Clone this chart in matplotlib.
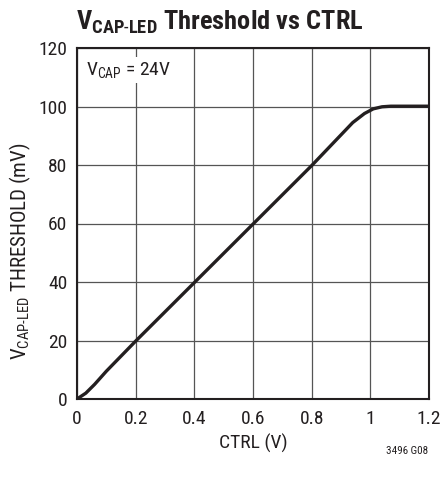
import matplotlib
matplotlib.use("Agg")
import matplotlib.pyplot as plt
from matplotlib import font_manager

# CTRL voltage (V) vs threshold (mV)
ctrl_v = [0.0, 0.03, 0.06, 0.10, 0.20, 0.40, 0.60, 0.80, 0.94, 0.98, 1.01, 1.04, 1.07, 1.10, 1.20]
thresh_mv = [0.0, 2.0, 5.0, 9.5, 19.8, 39.8, 59.8, 79.8, 94.5, 97.6, 99.2, 99.9, 100.1, 100.1, 100.1]

x_ticks = [0, 0.2, 0.4, 0.6, 0.8, 1.0, 1.2]
x_labels = ["0", "0.2", "0.4", "0.6", "0.8", "1", "1.2"]
y_ticks = [0, 20, 40, 60, 80, 100, 120]

# pick a narrow sans if one is there
names = {f.name for f in font_manager.fontManager.ttflist}
base = "Liberation Sans"
for cand in ["Liberation Sans Narrow", "Roboto Condensed", "DejaVu Sans Condensed", "Open Sans Condensed"]:
    if cand in names:
        base = cand
        break

plt.rcParams["font.family"] = [base, "DejaVu Sans"]
plt.rcParams["mathtext.fontset"] = "custom"
plt.rcParams["mathtext.rm"] = base
plt.rcParams["mathtext.it"] = base
plt.rcParams["mathtext.bf"] = base + ":bold"

fs = 14
ink = "#231f20"
fig = plt.figure(figsize=(4.43, 4.83), dpi=100, facecolor="white")
ax = fig.add_axes([77 / 443, 1 - 399 / 483, 352 / 443, 351 / 483])

ax.plot(ctrl_v, thresh_mv, color=ink, lw=2.4, solid_capstyle="round")

ax.set_xlim(0, 1.2)
ax.set_ylim(0, 120)
ax.set_xticks(x_ticks)
ax.set_xticklabels(x_labels)
ax.set_yticks(y_ticks)
ax.tick_params(length=0, labelsize=fs, colors=ink)
ax.tick_params(axis="x", pad=8)
ax.tick_params(axis="y", pad=7)
ax.grid(True, color="#555555", lw=0.9)
for s in ax.spines.values():
    s.set_color(ink)
    s.set_linewidth(1.5)

ax.set_xlabel("CTRL (V)", fontsize=fs, color=ink, labelpad=4)
ax.set_ylabel(r"$\mathrm{V_{CAP\text{-}LED}}$ THRESHOLD (mV)", fontsize=15, color=ink)
ax.yaxis.set_label_coords(-0.125, 0.42)

ax.text(0.03, 112.5, r"$\mathrm{V_{CAP}}$ = 24V", fontsize=fs, color=ink,
        va="center", ha="left",
        bbox=dict(facecolor="white", edgecolor="none", pad=2))

fig.text(220 / 443, 1 - 22 / 483, r"$\mathbf{V_{CAP\text{-}LED}}$ Threshold vs CTRL",
         fontsize=19, fontweight="bold", ha="center", va="center", color=ink)
fig.text(428 / 443, 1 - 451 / 483, "3496 G08", fontsize=8, ha="right", va="center", color=ink)

fig.savefig("out.png", dpi=100, facecolor="white")
